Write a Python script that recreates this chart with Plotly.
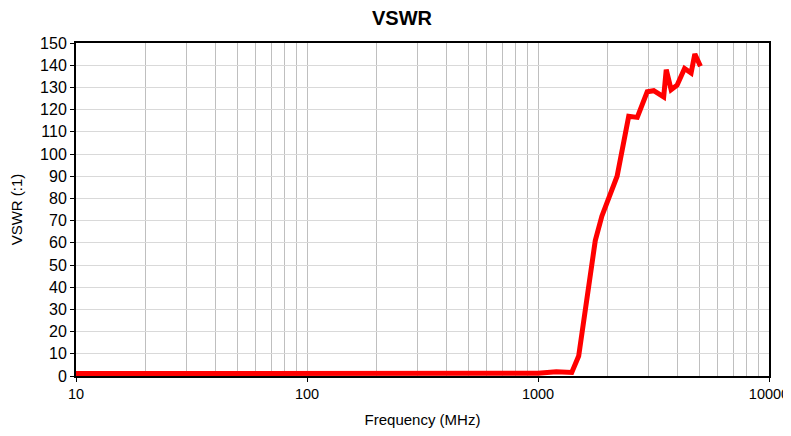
import plotly.graph_objects as go

freq_mhz = [10, 20, 50, 100, 200, 300, 500, 700, 900, 1000, 1200, 1400, 1500, 1660, 1770,
            1890, 2200, 2470, 2690, 2970, 3170, 3500, 3590, 3770, 4000, 4310, 4600, 4775, 5050]
vswr = [1.1, 1.1, 1.2, 1.3, 1.4, 1.6, 1.6, 1.5, 1.1, 1.2, 1.9, 1.6, 9, 40, 61,
        72, 90, 117, 116.5, 128, 128.5, 125.7, 138, 129, 131, 138.5, 136.5, 145, 139.5]
x_ticks = [10, 100, 1000, 10000]
x_ticktext = ["10", "100", "1000", "10000"]
y_ticks = list(range(0, 151, 10))

fig = go.Figure()
fig.add_trace(go.Scatter(x=freq_mhz, y=vswr, mode="lines",
                         line=dict(color="#ff0000", width=5), showlegend=False))

font = "Liberation Sans, Arial, sans-serif"
# the page body has an 8px margin, so the figure is shifted by 8px
fig.update_layout(
    width=783, height=420,
    margin=dict(l=68, r=22, t=35, b=52, autoexpand=False),
    paper_bgcolor="white", plot_bgcolor="white",
    font=dict(family=font, size=16, color="black"),
    title=dict(text="<b>VSWR</b>", x=394 / 783, xanchor="center", y=1 - 10 / 420, yanchor="middle",
               font=dict(size=20, family=font, color="black")),
)
fig.update_xaxes(
    type="log", range=[1, 4], automargin=False,
    tickvals=x_ticks, ticktext=x_ticktext, tickfont=dict(size=14.5),
    ticklabeloverflow="allow",
    showline=True, linecolor="black", linewidth=2, mirror=True,
    ticks="outside", ticklen=4, tickcolor="black", tickwidth=1,
    showgrid=True, gridcolor="#bfbfbf", gridwidth=1,
    minor=dict(dtick="D1", showgrid=True, gridcolor="#bfbfbf", gridwidth=1, ticks=""),
    title=dict(text="Frequency (MHz)", font=dict(size=15, family=font)),
    zeroline=False,
)
fig.update_yaxes(
    range=[0, 150], tickvals=y_ticks, automargin=False, tickfont=dict(size=16),
    ticksuffix=" ",
    showline=True, linecolor="black", linewidth=2, mirror=True,
    ticks="outside", ticklen=4, tickcolor="black", tickwidth=1,
    showgrid=True, gridcolor="#d9d9d9", gridwidth=1,
    title=dict(text="VSWR (:1)", font=dict(size=15, family=font)),
    zeroline=False,
)
fig.write_html("out.html")
